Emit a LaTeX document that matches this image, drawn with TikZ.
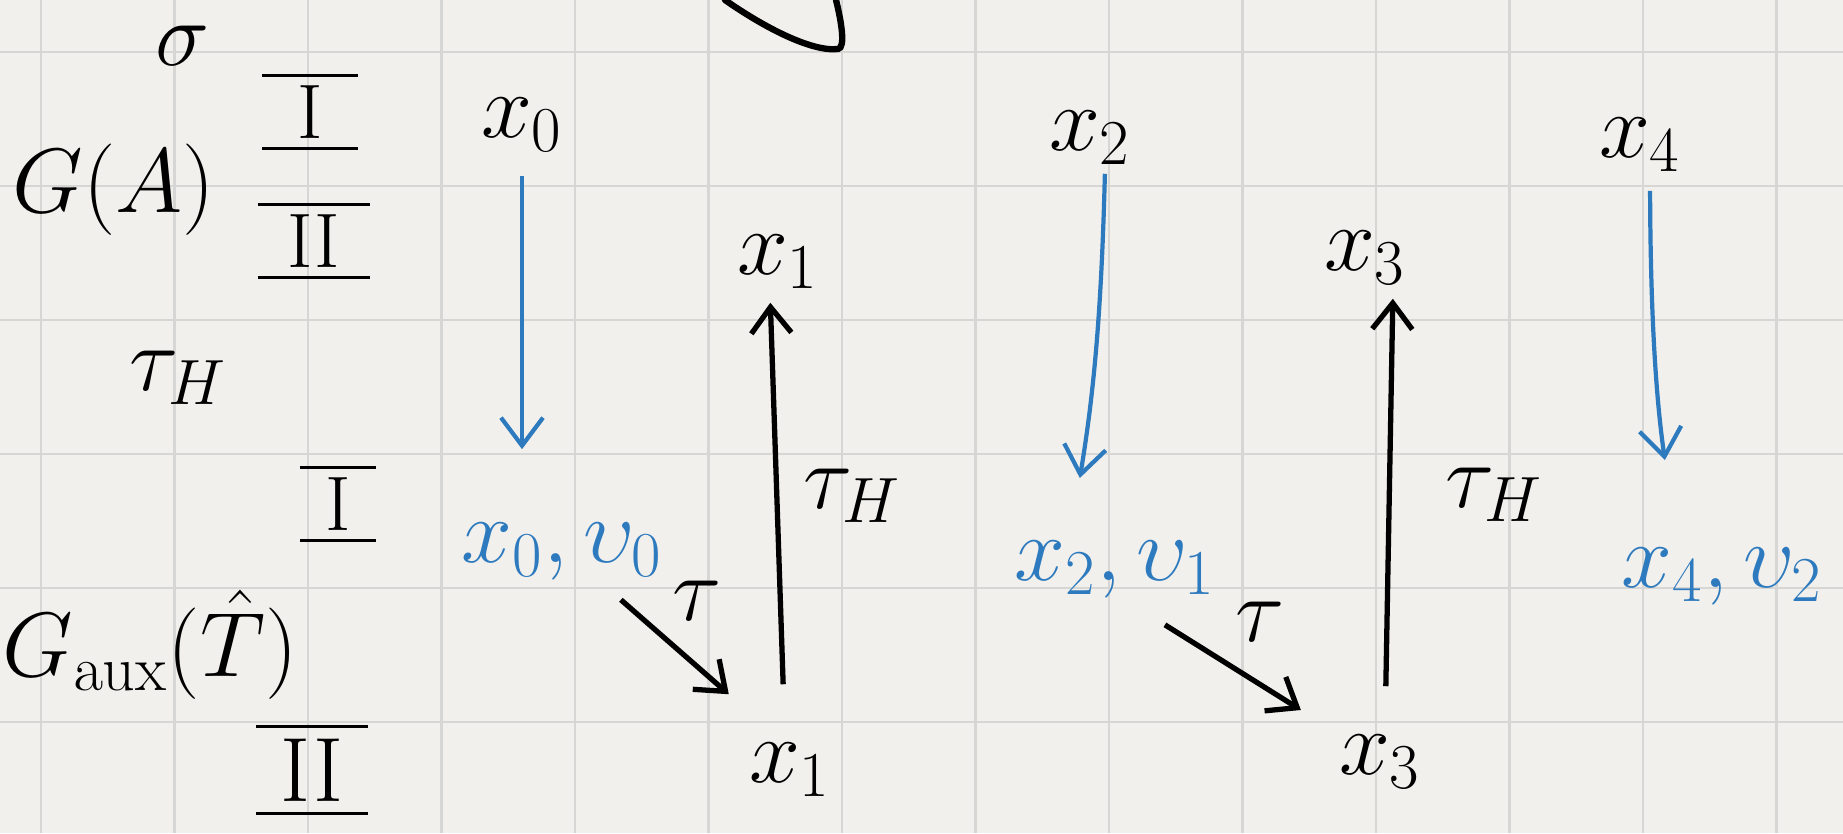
\RequirePackage{fix-cm}
\documentclass[tikz,border=0pt]{standalone}
\usepackage{amsmath}
\usepackage{xcolor}
\usepackage{tikz}
\usetikzlibrary{arrows.meta}

\definecolor{paper}{RGB}{242,240,236}
\definecolor{gridgray}{RGB}{214,214,212}
\definecolor{inkblue}{RGB}{45,122,190}

\begin{document}
\begin{tikzpicture}[
    x=0.01cm, y=-0.01cm,
    lab/.style={inner sep=1pt, font=\fontsize{26}{30}\selectfont},
    bluelab/.style={lab, text=inkblue},
    numeral/.style={inner sep=1pt, font=\fontsize{22}{26}\selectfont},
    gridline/.style={gridgray, line width=0.6pt},
    map/.style={line width=1.5pt, -{Straight Barb[length=2.6mm, width=4mm, line width=1.5pt]}},
    bluemap/.style={inkblue, line width=1.2pt, -{Straight Barb[length=2.8mm, width=4.2mm, line width=1.2pt]}}
]
\useasboundingbox (0,0) rectangle (1843,833);
\fill[paper] (0,0) rectangle (1843,833);

% grid paper
\foreach \i in {0,...,13}
    \draw[gridline] ({41+133.5*\i},0) -- ({41+133.5*\i},833);
\foreach \j in {0,...,5}
    \draw[gridline] (0,{52+134*\j}) -- (1843,{52+134*\j});

% left column
\node[lab] (sig) at (183,46) {$\sigma$};
\node[numeral] (romIa) at (310,112) {$\overline{\underline{\hspace{0.35cm}\mathrm{I}\hspace{0.35cm}}}$};
\node[lab] (GA) at (114,190) {$G(A)$};
\node[numeral] (romIIa) at (314,241) {$\overline{\underline{\hspace{0.3cm}\mathrm{II}\hspace{0.3cm}}}$};
\node[lab] (tauHl) at (178,378) {$\tau_H$};
\node[numeral] (romIb) at (338,504) {$\overline{\underline{\hspace{0.25cm}\mathrm{I}\hspace{0.25cm}}}$};
\node[lab] (Gaux) at (150,645) {$G_{\mathrm{aux}}(\hat{T})$};
\node[lab] (romIIb) at (312,770) {$\overline{\underline{\hspace{0.25cm}\mathrm{II}\hspace{0.25cm}}}$};

% upper row
\node[lab] (x0) at (522,125) {$x_0$};
\node[lab] (x1t) at (778,262) {$x_1$};
\node[lab] (x2) at (1090,138) {$x_2$};
\node[lab] (x3t) at (1365,258) {$x_3$};
\node[lab] (x4) at (1640,145) {$x_4$};

% lower row
\node[bluelab] (x0u0) at (562,552) {$x_0,\upsilon_0$};
\node[bluelab] (x2u1) at (1115,570) {$x_2,\upsilon_1$};
\node[bluelab] (x4u2) at (1722,577) {$x_4,\upsilon_2$};
\node[lab] (x1b) at (790,770) {$x_1$};
\node[lab] (x3b) at (1380,762) {$x_3$};

% blue maps down
\draw[bluemap, shorten <=0.2cm, shorten >=0.7cm] (x0.south) -- (x0.south |- x0u0.north);
\draw[bluemap, shorten <=0.05cm, shorten >=0.6cm] ([xshift=0.15cm]x2.south) to[bend left=4] ([xshift=-0.45cm]x2u1.north);
\draw[bluemap, shorten <=0.15cm, shorten >=0.85cm] ([xshift=0.1cm]x4.south) to[bend right=4] ([xshift=-0.45cm]x4u2.north);

% tau and tau_H
\draw[map] ([shift={(-0.46cm,-0.15cm)}]x0u0.south east) -- ([shift={(-0.16cm,0.45cm)}]x1b.north west)
    node[lab, midway, above=0.2cm, xshift=0.22cm] (tauA) {$\tau$};
\draw[map, shorten >=0.4cm] ([shift={(-0.55cm,-0.22cm)}]x2u1.south east) -- (x3b.north west)
    node[lab, midway, above=0.3cm, xshift=0.1cm] (tauB) {$\tau$};
\draw[map, shorten <=0.55cm, shorten >=0.1cm] ([xshift=-0.05cm]x1b.north) -- ([xshift=-0.08cm]x1t.south)
    node[lab, midway, right=0.2cm, yshift=0.2cm] (tauHA) {$\tau_H$};
\draw[map, shorten <=0.45cm, shorten >=0.1cm] ([xshift=0.05cm]x3b.north) -- ([xshift=0.28cm]x3t.south)
    node[lab, midway, right=0.5cm, yshift=0.15cm] (tauHB) {$\tau_H$};

% stroke cut off at the top
\draw[line width=1.8pt, line cap=round] (725,0) .. controls (765,28) and (812,52) .. (838,49)
    .. controls (846,48) and (841,20) .. (836,0);
\end{tikzpicture}
\end{document}
